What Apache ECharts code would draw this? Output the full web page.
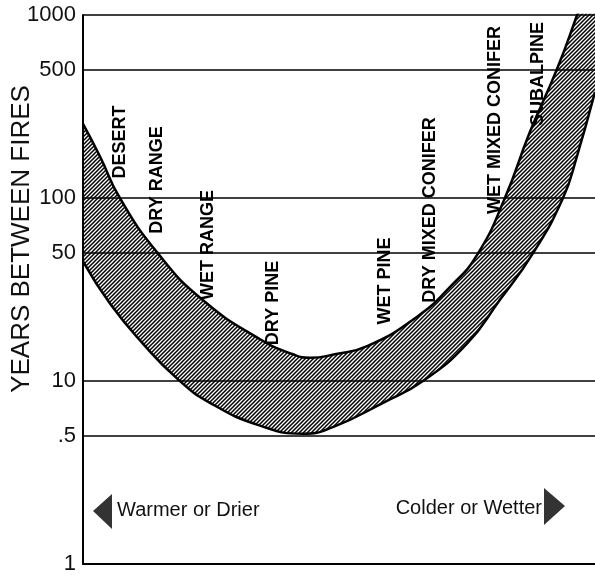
<!DOCTYPE html>
<html>
<head>
<meta charset="utf-8">
<script src="https://cdn.jsdelivr.net/npm/echarts@6/dist/echarts.min.js"></script>
<style>
  html, body { margin: 0; padding: 0; background: #fff; }
  #chart { width: 595px; height: 575px; }
</style>
</head>
<body>
<div id="chart"></div>
<script>
// gradient position, 0 = warmest / driest, 100 = coldest / wettest
const upperX = [0, 3.3, 7.2, 14.6, 23.4, 34.6, 41.0, 44.3, 49.2, 55.5, 65.2, 71.7, 77.0, 82.4, 87.3, 92.5, 96.5, 100]
const upperYears = [254, 169, 100, 50, 27.7, 16.9, 14.0, 13.4, 14.0, 15.5, 22.4, 32.7, 49, 100, 230, 500, 1000, 1900]
const lowerX = [0, 5.3, 11.7, 18.4, 24.8, 34.6, 43.0, 48.8, 58.6, 66.4, 75.0, 81.4, 87.9, 93.75, 96.5, 100]
const lowerYears = [45, 26.4, 16, 10.3, 7.6, 5.7, 5.15, 5.6, 7.6, 10, 16, 27.7, 50, 100, 170, 380]
const yTicks = [1, 5, 10, 50, 100, 500, 1000]
const zones = ['DESERT', 'DRY RANGE', 'WET RANGE', 'DRY PINE', 'WET PINE', 'DRY MIXED CONIFER', 'WET MIXED CONIFER', 'SUBALPINE']

// layout only (pixels)
const zonePos = [[120, 142], [157, 180], [208, 245], [273, 303], [385, 281], [430, 210], [495, 120], [538, 74]]

const hatch = document.createElement('canvas')
hatch.width = 4
hatch.height = 4
const hctx = hatch.getContext('2d')
hctx.fillStyle = '#fff'
hctx.fillRect(0, 0, 4, 4)
hctx.strokeStyle = '#000'
hctx.lineWidth = 1.5
hctx.beginPath()
hctx.moveTo(-1, 5); hctx.lineTo(5, -1)
hctx.moveTo(-1, 1); hctx.lineTo(1, -1)
hctx.moveTo(3, 5); hctx.lineTo(5, 3)
hctx.stroke()

const pairs = (xs, ys) => xs.map((x, i) => [x, ys[i]])

const chart = echarts.init(document.getElementById('chart'))

const zoneText = zones.map((name, i) => ({
  type: 'text',
  x: zonePos[i][0],
  y: zonePos[i][1],
  rotation: Math.PI / 2,
  z: 100,
  style: {
    text: name,
    fill: '#000',
    font: 'bold 18px "Liberation Sans", Arial, sans-serif',
    align: 'center',
    verticalAlign: 'middle',
  },
}))

chart.setOption({
  animation: false,
  backgroundColor: '#fff',
  grid: { left: 83, right: 0, top: 15, bottom: 5 },
  xAxis: {
    type: 'value',
    min: 0,
    max: 100,
    z: 5,
    axisLine: { show: true, lineStyle: { color: '#000', width: 2 } },
    axisTick: { show: false },
    axisLabel: { show: false },
    splitLine: { show: false },
  },
  yAxis: {
    type: 'log',
    logBase: 10,
    min: 1,
    max: 1000,
    z: 5,
    axisLine: { show: true, lineStyle: { color: '#000', width: 2 } },
    axisTick: { show: false, customValues: yTicks },
    axisLabel: {
      customValues: yTicks,
      margin: 7,
      color: '#111',
      fontSize: 22,
      fontFamily: '"Liberation Sans", Arial, sans-serif',
      formatter: (v) => (Math.round(v) === 5 ? '.5' : String(Math.round(v))),
    },
    splitLine: { show: true, lineStyle: { color: '#000', width: 1.5 } },
  },
  series: [
    {
      name: 'upper',
      type: 'line',
      data: pairs(upperX, upperYears),
      smooth: 0.5,
      symbol: 'none',
      z: 2,
      lineStyle: { color: '#000', width: 2.5 },
      areaStyle: { color: { image: hatch, repeat: 'repeat' }, opacity: 1, origin: 'start' },
    },
    {
      name: 'lower',
      type: 'line',
      data: pairs(lowerX, lowerYears),
      smooth: 0.5,
      symbol: 'none',
      z: 3,
      lineStyle: { color: '#000', width: 2.5 },
      areaStyle: { color: '#fff', opacity: 1, origin: 'start' },
    },
  ],
  graphic: [
    {
      type: 'text',
      x: 22,
      y: 239,
      rotation: Math.PI / 2,
      z: 100,
      style: {
        text: 'YEARS BETWEEN FIRES',
        fill: '#111',
        font: '26px "Liberation Sans", Arial, sans-serif',
        align: 'center',
        verticalAlign: 'middle',
      },
    },
    ...zoneText,
    {
      type: 'polygon',
      z: 100,
      shape: { points: [[93, 511], [112, 494], [112, 529]] },
      style: { fill: '#333' },
    },
    {
      type: 'text',
      x: 117,
      y: 510,
      z: 100,
      style: {
        text: 'Warmer or Drier',
        fill: '#111',
        font: '20px "Liberation Sans", Arial, sans-serif',
        align: 'left',
        verticalAlign: 'middle',
      },
    },
    {
      type: 'text',
      x: 542,
      y: 508,
      z: 100,
      style: {
        text: 'Colder or Wetter',
        fill: '#111',
        font: '20px "Liberation Sans", Arial, sans-serif',
        align: 'right',
        verticalAlign: 'middle',
      },
    },
    {
      type: 'polygon',
      z: 100,
      shape: { points: [[565, 506], [544, 488], [544, 525]] },
      style: { fill: '#333' },
    },
  ],
})
</script>
</body>
</html>
